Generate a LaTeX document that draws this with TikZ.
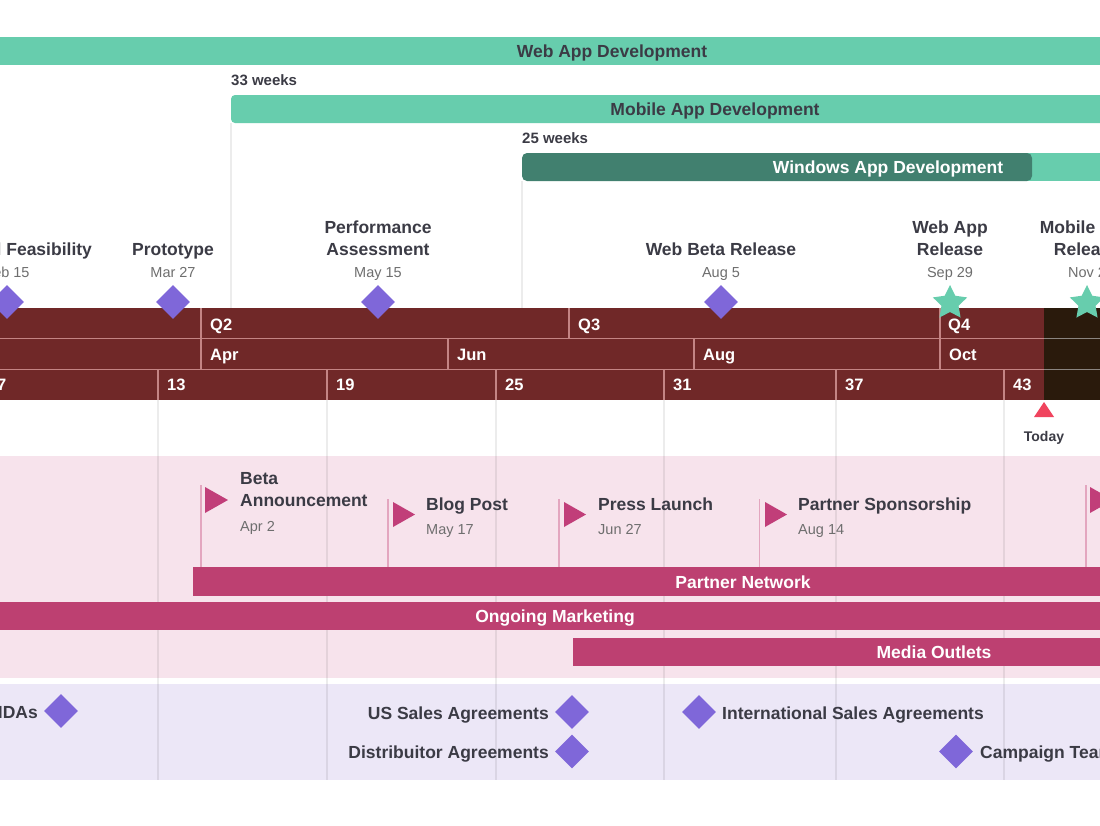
\documentclass[tikz,border=0pt]{standalone}
\usepackage{fontspec}
\setmainfont{Liberation Sans}
\usetikzlibrary{shapes.geometric}
\definecolor{mint}{HTML}{67CDAD}
\definecolor{winc}{HTML}{41806F}
\definecolor{tsred}{HTML}{702828}
\definecolor{tsline}{HTML}{C48484}
\definecolor{future}{HTML}{2A1A0C}
\definecolor{futline}{HTML}{8A8480}
\definecolor{pinkbg}{HTML}{F7E3EC}
\definecolor{magc}{HTML}{BD4071}
\definecolor{flagc}{HTML}{C13E79}
\definecolor{polec}{HTML}{E3A6BF}
\definecolor{lavbg}{HTML}{ECE7F7}
\definecolor{purp}{HTML}{7F67D9}
\definecolor{textdark}{HTML}{3B3B45}
\definecolor{dategray}{HTML}{6E6E6E}
\definecolor{todayred}{HTML}{F0445E}
\begin{document}
\begin{tikzpicture}[x=1pt,y=-1pt,
  lbl/.style={font=\fontsize{17.5}{21}\selectfont\bfseries, text=textdark, inner sep=0pt, text height=12.5pt, text depth=0pt},
  datelbl/.style={font=\fontsize{14.5}{17}\selectfont, text=dategray, inner sep=0pt, text height=10.4pt, text depth=0pt},
  smalllbl/.style={font=\fontsize{15}{18}\selectfont\bfseries, text=textdark, inner sep=0pt, text height=10.8pt, text depth=0pt},
  bartxt/.style={font=\fontsize{17.5}{21}\selectfont\bfseries, text=textdark, inner sep=0pt, text height=12.5pt, text depth=0pt},
  bartxtw/.style={bartxt, text=white},
  tslbl/.style={font=\fontsize{16.5}{20}\selectfont\bfseries, text=white, inner sep=0pt, text height=11.8pt, text depth=0pt, anchor=west},
  dia/.style={diamond, fill=purp, minimum width=34pt, minimum height=34pt, inner sep=0pt},
  strm/.style={star, star points=5, star point ratio=2.0, fill=mint, minimum size=36pt, inner sep=0pt},
  gridc/.style={draw=black, opacity=0.075, line width=1.2pt},
  pole/.style={draw=polec, line width=1.5pt},
  tsl/.style={draw=tsline, line width=1.6pt},
  fl/.style={draw=futline, line width=1.6pt}]
\useasboundingbox (0,0) rectangle (1100,825);
\clip (0,0) rectangle (1100,825);
\fill[white] (0,0) rectangle (1100,825);

% ---------- development bars ----------
\fill[mint] (-50,37) rectangle (1150,65);
\node[bartxt] (webdev) at (612,51) {Web App Development};
\node[smalllbl, anchor=west] (w33) at (231,80) {33 weeks};
\fill[mint, rounded corners=4pt] (231,95) rectangle (1150,123);
\node[bartxt] (mobdev) at (715,109) {Mobile App Development};
\draw[gridc] (231,123) -- (231,308);
\node[smalllbl, anchor=west] (w25) at (522,138) {25 weeks};
\fill[mint] (1015,153) rectangle (1150,181);
\fill[winc, rounded corners=5pt] (522,153) rectangle (1032,181);
\node[bartxtw] (windev) at (888,167) {Windows App Development};
\draw[gridc] (522,181) -- (522,308);

% ---------- timescale ----------
\fill[tsred] (-20,308) rectangle (1044,400);
\fill[future] (1044,308) rectangle (1150,400);
\draw[tsl] (-20,338.5) -- (1044,338.5);
\draw[tsl] (-20,369.5) -- (1044,369.5);
\draw[fl] (1044,338.5) -- (1150,338.5);
\draw[fl] (1044,369.5) -- (1150,369.5);
\foreach \x in {201,569,940} \draw[tsl] (\x,308) -- (\x,338);
\foreach \x in {201,448,694,940} \draw[tsl] (\x,339) -- (\x,369);
\foreach \x in {-11,158,327,496,664,836,1004} \draw[tsl] (\x,370) -- (\x,400);
\node[tslbl] (q2) at (210,325) {Q2};
\node[tslbl] (q3) at (578,325) {Q3};
\node[tslbl] (q4) at (948,325) {Q4};
\node[tslbl] (mfeb) at (-30,355) {Feb};
\node[tslbl] (mapr) at (210,355) {Apr};
\node[tslbl] (mjun) at (457,355) {Jun};
\node[tslbl] (maug) at (703,355) {Aug};
\node[tslbl] (moct) at (949,355) {Oct};
\node[tslbl] (wk7) at (-3,385) {7};
\node[tslbl] (wk13) at (167,385) {13};
\node[tslbl] (wk19) at (336,385) {19};
\node[tslbl] (wk25) at (505,385) {25};
\node[tslbl] (wk31) at (673,385) {31};
\node[tslbl] (wk37) at (845,385) {37};
\node[tslbl] (wk43) at (1013,385) {43};
\fill[todayred] (1044,402) -- (1054,417) -- (1034,417) -- cycle;
\node[smalllbl, font=\fontsize{14}{17}\selectfont\bfseries] (today) at (1044,436) {Today};

% ---------- milestones ----------
\node[lbl] (tf) at (7,249) {Technical Feasibility};
\node[datelbl] (tfd) at (7,272) {Feb 15};
\node[dia] (tfm) at (7,302) {};
\node[lbl] (pr) at (173,249) {Prototype};
\node[datelbl] (prd) at (173,272) {Mar 27};
\node[dia] (prm) at (173,302) {};
\node[lbl] (pa1) at (378,227) {Performance};
\node[lbl] (pa2) at (378,249) {Assessment};
\node[datelbl] (pad) at (378,272) {May 15};
\node[dia] (pam) at (378,302) {};
\node[lbl] (wb) at (721,249) {Web Beta Release};
\node[datelbl] (wbd) at (721,272) {Aug 5};
\node[dia] (wbm) at (721,302) {};
\node[lbl] (wa1) at (950,227) {Web App};
\node[lbl] (wa2) at (950,249) {Release};
\node[datelbl] (wad) at (950,272) {Sep 29};
\node[strm] (wam) at (950,303) {};
\node[lbl] (ma1) at (1087,227) {Mobile App};
\node[lbl] (ma2) at (1087,249) {Release};
\node[datelbl] (mad) at (1087,272) {Nov 2};
\node[strm] (mam) at (1087,303) {};

% ---------- lanes ----------
\fill[pinkbg] (-20,456) rectangle (1150,678);
\fill[lavbg] (-20,684) rectangle (1150,780);
\foreach \x in {158,327,496,664,836,1004} \draw[gridc] (\x,400) -- (\x,780);

% ---------- marketing ----------
\draw[pole] (201,485) -- (201,567);
\fill[flagc] (205,487) -- (228,500) -- (205,513) -- cycle;
\node[lbl, anchor=west] (ba1) at (240,478) {Beta};
\node[lbl, anchor=west] (ba2) at (240,500) {Announcement};
\node[datelbl, anchor=west] (bad) at (240,526) {Apr 2};
\draw[pole] (388,499) -- (388,567);
\fill[flagc] (393,502) -- (415,514.5) -- (393,527) -- cycle;
\node[lbl, anchor=west] (bp) at (426,504) {Blog Post};
\node[datelbl, anchor=west] (bpd) at (426,529) {May 17};
\draw[pole] (559,499) -- (559,567);
\fill[flagc] (564,502) -- (586,514.5) -- (564,527) -- cycle;
\node[lbl, anchor=west] (pl) at (598,504) {Press Launch};
\node[datelbl, anchor=west] (pld) at (598,529) {Jun 27};
\draw[pole] (759.5,499) -- (759.5,567);
\fill[flagc] (765,502) -- (787,514.5) -- (765,527) -- cycle;
\node[lbl, anchor=west] (ps) at (798,504) {Partner Sponsorship};
\node[datelbl, anchor=west] (psd) at (798,529) {Aug 14};
\draw[pole] (1086,485) -- (1086,567);
\fill[flagc] (1090,487) -- (1113,500) -- (1090,513) -- cycle;

\fill[magc] (193,567) rectangle (1150,596);
\node[bartxtw] (pn) at (743,582) {Partner Network};
\fill[magc] (-20,602) rectangle (1150,630);
\node[bartxtw] (om) at (555,616) {Ongoing Marketing};
\fill[magc] (573,638) rectangle (1150,666);
\node[bartxtw] (mo) at (934,652) {Media Outlets};

% ---------- agreements ----------
\node[dia] (nda) at (61,711) {};
\node[lbl, anchor=east] (ndat) at (38,712) {NDAs};
\node[dia] (us) at (572,712) {};
\node[lbl, anchor=east] (ust) at (549,713) {US Sales Agreements};
\node[dia] (dist) at (572,751.5) {};
\node[lbl, anchor=east] (distt) at (549,752) {Distribuitor Agreements};
\node[dia] (intl) at (699,712) {};
\node[lbl, anchor=west] (intlt) at (722,713) {International Sales Agreements};
\node[dia] (camp) at (956,751.5) {};
\node[lbl, anchor=west] (campt) at (980,752) {Campaign Team};
\end{tikzpicture}
\end{document}
